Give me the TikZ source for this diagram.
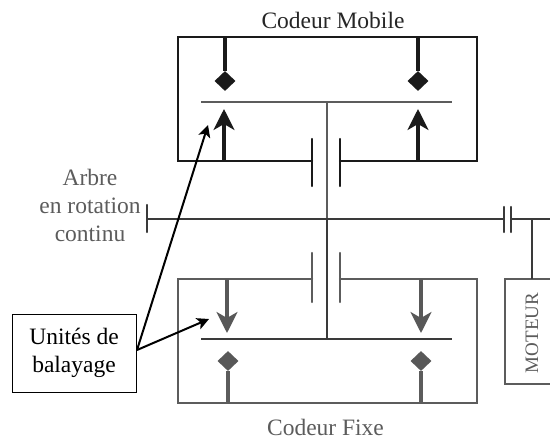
\documentclass[tikz,border=0pt]{standalone}
\usepackage{fontspec}
\setmainfont{Liberation Serif}
\usetikzlibrary{arrows.meta,shapes.geometric}
\definecolor{noirc}{HTML}{1A1A1A}
\definecolor{grisb}{HTML}{5C5C5C}
\definecolor{grisd}{HTML}{585858}
\definecolor{arbre}{HTML}{3A3A3A}
\tikzset{
  mob/.style={draw=noirc,line width=2.5pt},
  fixe/.style={draw=grisb,line width=2.5pt},
  butee/.style={line width=2.4pt,line cap=round},
  disque/.style={line width=2.3pt},
  tige/.style={line width=3.2pt},
  fleche/.style={line width=3.2pt,-{Stealth[length=21pt,width=21pt,inset=6pt]}},
  losange/.style={diamond,inner sep=0pt,minimum width=21pt,minimum height=20pt},
  lab/.style={font=\fontsize{23.5}{28}\selectfont,align=center,inner sep=0pt},
  renvoi/.style={draw=black,line width=2pt,-{Stealth[length=12pt,width=12pt,inset=3pt]}}
}
\begin{document}
\begin{tikzpicture}[x=1pt,y=-1pt]
\useasboundingbox (0,0) rectangle (550,437);
\fill[white] (0,0) rectangle (550,437);
% named points
\coordinate (tl) at (178,161); \coordinate (tc1) at (312,161);
\coordinate (mtl) at (178,37); \coordinate (mtr) at (477,37);
\coordinate (mbr) at (477,161); \coordinate (tc2) at (340,161);
\coordinate (fbl) at (178,403); \coordinate (fbr) at (477,403);
\coordinate (ftl) at (178,279); \coordinate (ftr) at (477,279);
\coordinate (fc1) at (312,279); \coordinate (fc2) at (340,279);
% shafts
\coordinate (d1a) at (201,102); \coordinate (d1b) at (452,102);
\coordinate (d2a) at (201,339); \coordinate (d2b) at (452,339);
\coordinate (s1) at (327,102); \coordinate (s2) at (327,339);
\coordinate (sc) at (327,219);
\coordinate (h1) at (147,219); \coordinate (h2) at (504,219);
\coordinate (h3) at (511,219); \coordinate (h4) at (550,219);
\coordinate (st) at (532,219); \coordinate (sb) at (532,279);
% mobile coder
\draw[mob,line cap=round,line join=miter] (tc1) -- (tl) -- (mtl) -- (mtr) -- (mbr) -- (tc2);
\draw[noirc,butee] (312,139) -- (312,186);
\draw[noirc,butee] (340,139) -- (340,186);
\node[losange,fill=noirc] (dm1) at (225,81) {};
\node[losange,fill=noirc] (dm2) at (418,81) {};
\coordinate (dm1t) at (225,37); \coordinate (dm2t) at (418,37);
\draw[noirc,tige] (dm1t) -- (dm1);
\draw[noirc,tige] (dm2t) -- (dm2);
\coordinate (am1) at (224,161); \coordinate (am1t) at (224,109);
\coordinate (am2) at (418,161); \coordinate (am2t) at (418,109);
\draw[fleche,noirc] (am1) -- (am1t);
\draw[fleche,noirc] (am2) -- (am2t);
% fixed coder
\draw[fixe,line cap=round] (fc1) -- (ftl) -- (fbl) -- (fbr) -- (ftr) -- (fc2);
\draw[grisb,butee] (312,253) -- (312,302);
\draw[grisb,butee] (340,253) -- (340,302);
\node[losange,fill=grisd] (df1) at (228,361) {};
\node[losange,fill=grisd] (df2) at (421,361) {};
\coordinate (df1b) at (228,403); \coordinate (df2b) at (421,403);
\draw[grisb,tige] (df1b) -- (df1);
\draw[grisb,tige] (df2b) -- (df2);
\coordinate (af1) at (227,279); \coordinate (af1t) at (227,333);
\coordinate (af2) at (421,279); \coordinate (af2t) at (421,333);
\draw[fleche,grisd] (af1) -- (af1t);
\draw[fleche,grisd] (af2) -- (af2t);
% discs and shaft
\draw[grisb,disque] (d1a) -- (d1b);
\draw[arbre,disque] (d2a) -- (d2b);
\draw[grisb,disque] (s1) -- (sc);
\draw[arbre,disque] (sc) -- (s2);
\draw[arbre,disque] (h1) -- (h2);
\draw[arbre,butee] (147,205) -- (147,232);
\draw[arbre,butee] (504,207) -- (504,232);
\draw[arbre,butee] (511,207) -- (511,232);
\draw[arbre,disque] (h3) -- (h4);
% motor
\node[draw=grisb,line width=2.2pt,anchor=north west,minimum width=60pt,minimum height=105pt,inner sep=0pt,outer sep=0pt] (mot) at (505,279) {};
\draw[arbre,disque] (st) -- (sb);
\node[lab,text=grisb,rotate=90,font=\fontsize{19}{22}\selectfont] (motl) at (532,333) {MOTEUR};
% labels
\node[lab,text=black!85] (cm) at (333,20) {Codeur Mobile};
\node[lab,text=grisb] (cf) at (325.5,427.5) {Codeur Fixe};
\node[lab,text=grisb] (ar) at (90,205) {Arbre\\en rotation\\continu};
\node[draw=black,line width=1pt,inner sep=0pt,outer sep=0pt,minimum width=124pt,minimum height=78pt,lab,anchor=north west] (ub) at (12,314) {Unités de\\balayage};
\coordinate (p) at (137,350);
\coordinate (t1) at (208,125);
\coordinate (t2) at (209,319);
\draw[renvoi] (p) -- (t1);
\draw[renvoi] (p) -- (t2);
\end{tikzpicture}
\end{document}
